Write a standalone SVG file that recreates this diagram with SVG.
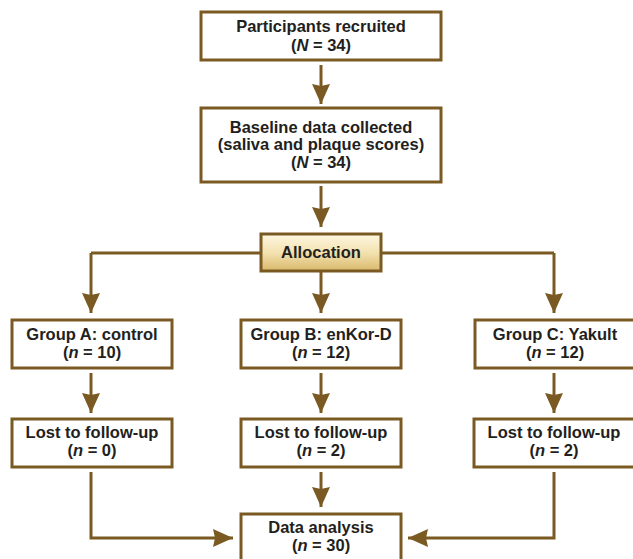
<svg xmlns="http://www.w3.org/2000/svg" width="633" height="559" viewBox="0 0 633 559">
<defs>
<linearGradient id="gold" x1="0" y1="0" x2="0" y2="1">
<stop offset="0" stop-color="#fdf7e2"/>
<stop offset="0.5" stop-color="#f3e2b0"/>
<stop offset="1" stop-color="#d9b86c"/>
</linearGradient>
<marker id="ah" markerUnits="userSpaceOnUse" markerWidth="20" markerHeight="20" viewBox="0 0 20 20" refX="20" refY="10" orient="auto">
<path d="M0,1 L20,10 L0,19 L2,10 Z" fill="#7a5a22"/>
</marker>
<style>
.box{fill:#fff;stroke:#7a5a22;stroke-width:3}
.alloc{fill:url(#gold);stroke:#7a5a22;stroke-width:3}
.t{font-family:"Liberation Sans",Arial,sans-serif;font-weight:bold;font-size:16.5px;fill:#231f20;text-anchor:middle}
.c{fill:none;stroke:#7a5a22;stroke-width:3;marker-end:url(#ah)}
.l{fill:none;stroke:#7a5a22;stroke-width:3}
</style>
</defs>
<rect width="633" height="559" fill="#fff"/>
<g id="connectors">
<path class="c" d="M321,65 V104"/>
<path class="c" d="M321,186 V227"/>
<path class="l" d="M91,253 H260 M381,253 H554"/>
<path class="c" d="M91,253 V313"/>
<path class="c" d="M321,271 V313"/>
<path class="c" d="M554,253 V313"/>
<path class="c" d="M91,373 V413"/>
<path class="c" d="M321,373 V413"/>
<path class="c" d="M554,373 V413"/>
<path class="c" d="M91,472 V538 H233"/>
<path class="c" d="M321,472 V507"/>
<path class="c" d="M554,472 V538 H408"/>
</g>
<g id="recruited">
<rect class="box" x="201" y="12" width="240" height="48"/>
<text class="t" x="321" y="32">Participants recruited</text>
<text class="t" x="321" y="50.5">(<tspan font-style="italic">N</tspan> = 34)</text>
</g>
<g id="baseline">
<rect class="box" x="201" y="108" width="240" height="74"/>
<text class="t" x="321" y="132.5">Baseline data collected</text>
<text class="t" x="321" y="150">(saliva and plaque scores)</text>
<text class="t" x="321" y="167.5">(<tspan font-style="italic">N</tspan> = 34)</text>
</g>
<g id="allocation">
<rect class="alloc" x="261" y="234" width="120" height="37"/>
<text class="t" x="321" y="258">Allocation</text>
</g>
<g id="groupA">
<rect class="box" x="12" y="320" width="160" height="48"/>
<text class="t" x="92" y="339.5">Group A: control</text>
<text class="t" x="92" y="357.5">(<tspan font-style="italic">n</tspan> = 10)</text>
</g>
<g id="groupB">
<rect class="box" x="241" y="320" width="160" height="48"/>
<text class="t" x="321" y="339.5">Group B: enKor-D</text>
<text class="t" x="321" y="357.5">(<tspan font-style="italic">n</tspan> = 12)</text>
</g>
<g id="groupC">
<rect class="box" x="475" y="320" width="160" height="48"/>
<text class="t" x="555" y="339.5">Group C: Yakult</text>
<text class="t" x="555" y="357.5">(<tspan font-style="italic">n</tspan> = 12)</text>
</g>
<g id="lostA">
<rect class="box" x="12" y="419" width="160" height="48"/>
<text class="t" x="92" y="438">Lost to follow-up</text>
<text class="t" x="92" y="456">(<tspan font-style="italic">n</tspan> = 0)</text>
</g>
<g id="lostB">
<rect class="box" x="241" y="419" width="160" height="48"/>
<text class="t" x="321" y="438">Lost to follow-up</text>
<text class="t" x="321" y="456">(<tspan font-style="italic">n</tspan> = 2)</text>
</g>
<g id="lostC">
<rect class="box" x="474" y="419" width="161" height="48"/>
<text class="t" x="554" y="438">Lost to follow-up</text>
<text class="t" x="554" y="456">(<tspan font-style="italic">n</tspan> = 2)</text>
</g>
<g id="analysis">
<rect class="box" x="241" y="514" width="160" height="50"/>
<text class="t" x="321" y="533">Data analysis</text>
<text class="t" x="321" y="551">(<tspan font-style="italic">n</tspan> = 30)</text>
</g>
</svg>
